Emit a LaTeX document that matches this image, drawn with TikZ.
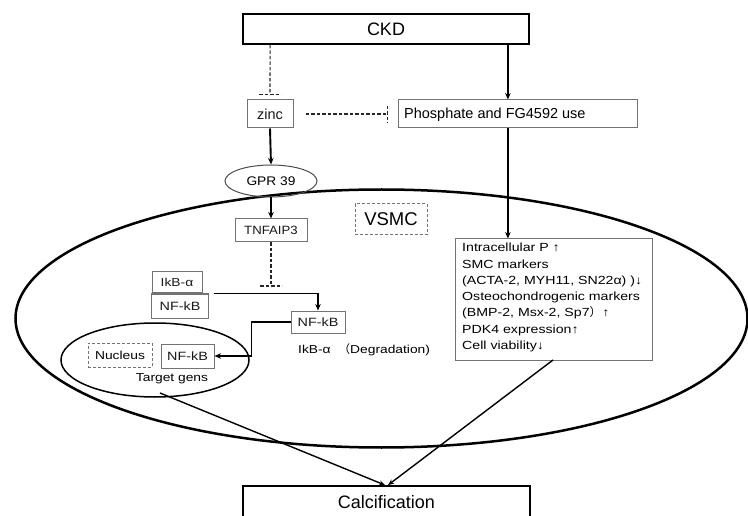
\documentclass[tikz,border=0pt]{standalone}
\usepackage{fontspec}
\setmainfont{Liberation Sans}
\newfontfamily\midf[FakeStretch=1.1]{Liberation Sans}
\newfontfamily\wf[FakeStretch=1.2]{Liberation Sans}
\newfontfamily\cjk{Noto Sans CJK SC}
\usetikzlibrary{arrows.meta,shapes.geometric,calc}
\begin{document}
\begin{tikzpicture}[x=1pt,y=-1pt,
  bigbox/.style={draw=black,line width=1.8pt,minimum height=30pt,inner sep=0pt,font=\fontsize{18}{20}\selectfont},
  smallbox/.style={draw=black!55,line width=1pt,inner sep=0pt,text=black!90},
  dbox/.style={draw=black!55,line width=1pt,dash pattern=on 3pt off 2pt,inner sep=0pt},
  arr/.style={line width=1.9pt,-{Stealth[length=6.5pt,width=5.5pt]}},
  thinarr/.style={line width=1.4pt,-{Stealth[length=6pt,width=5pt]}},
  inh/.style={line width=1.1pt,draw=black!85,dash pattern=on 3.5pt off 2pt},
]
\useasboundingbox (0,0) rectangle (748,516);
\clip (0,0) rectangle (748,516);
\fill[white] (0,0) rectangle (748,516);

% big VSMC cell
\draw[line width=2.5pt] (381.5,318.5) ellipse [x radius=366, y radius=129];

% top level
\node[bigbox,minimum width=286pt] (ckd) at (386,29) {CKD};
\node[bigbox,minimum width=287pt,minimum height=32pt] (calc) at (386.5,502) {Calcification};

\node[smallbox,minimum width=46pt,minimum height=28pt,font=\fontsize{14.5}{16}\selectfont] (zinc) at (270,114) {zinc};
\node[smallbox,minimum width=239pt,minimum height=28pt] (phos) at (517.5,114) {};
\node[anchor=west,inner sep=0pt,font=\fontsize{14.5}{16}\selectfont] (phost) at (404,114.5) {Phosphate and FG4592 use};

\node[ellipse,draw=black!70,line width=1pt,minimum width=92pt,minimum height=32pt,inner sep=0pt,font=\midf\fontsize{12.5}{14}\selectfont] (gpr) at (271,181) {GPR 39};
\node[smallbox,minimum width=72pt,minimum height=23pt,font=\midf\fontsize{12}{14}\selectfont] (tnf) at (271,230.5) {TNFAIP3};
\node[dbox,minimum width=72pt,minimum height=31pt,font=\fontsize{18.5}{20}\selectfont] (vsmc) at (391,219.5) {VSMC};

\node[smallbox,minimum width=50pt,minimum height=21pt,font=\wf\fontsize{11.5}{13}\selectfont] (ikb) at (177,282.5) {IkB-α};
\node[smallbox,minimum width=57pt,minimum height=24pt,font=\wf\fontsize{12}{14}\selectfont] (nf1) at (180,306) {NF-kB};
\node[smallbox,minimum width=54pt,minimum height=22pt,font=\wf\fontsize{12}{14}\selectfont] (nf2) at (318,322) {NF-kB};

% nucleus
\node[ellipse,draw=black,line width=1.5pt,minimum width=188pt,minimum height=74pt,inner sep=0pt] (nuc) at (155,360) {};
\node[dbox,minimum width=64pt,minimum height=24pt,font=\wf\fontsize{11.5}{14}\selectfont] (nucl) at (120,355) {Nucleus};
\node[smallbox,minimum width=53pt,minimum height=24pt,font=\wf\fontsize{12}{14}\selectfont] (nf3) at (187.5,356) {NF-kB};
\node[inner sep=0pt,font=\wf\fontsize{11.5}{13}\selectfont] (tg) at (172,378.5) {Target gens};

\node[anchor=west,inner sep=0pt,font=\wf\fontsize{11.5}{13}\selectfont] (deg) at (298,350) {IkB-α\hspace{8pt}{\cjk （}Degradation)};

% right box
\node[smallbox,minimum width=197pt,minimum height=121pt] (rbox) at (553.5,299.5) {};
\node[anchor=north west,inner sep=0pt,align=left,font=\wf\fontsize{11.8}{16.3}\selectfont] (rtext) at (462,243) {Intracellular P ↑\\SMC markers\\(ACTA-2, MYH11, SN22α) )↓\\Osteochondrogenic markers\\(BMP-2, Msx-2, Sp7{\cjk ）}\hspace{1pt}↑\\PDK4 expression↑\\Cell viability↓};

% coordinates
\coordinate (ckdA) at ($(ckd.south west)+(28,0)$);
\coordinate (barA) at ($(zinc.north)+(0,-5)$);
\coordinate (ckdB) at ($(ckd.south east)+(-22,0)$);
\coordinate (zincR) at ($(zinc.east)+(12,0)$);
\coordinate (barB) at ($(phos.west)+(-10,0)$);
\coordinate (barC) at ($(tnf.south)+(0,43.5)$);
\coordinate (nfS) at ($(nf1.north east)+(5,0)$);
\coordinate (rbS) at (553,360);
\coordinate (nucS) at (160,393);

% connectors
\draw[inh] (ckdA) -- (barA);
\draw[inh] ($(barA)+(-11,0)$) -- ($(barA)+(11,0)$);
\draw[arr] (ckdB) -- (ckdB |- phos.north);
\draw[inh] (zincR) -- (barB);
\draw[inh] ($(barB)+(0,-8)$) -- ($(barB)+(0,9)$);
\draw[arr] (zinc.south) -- (gpr.north);
\draw[arr] (gpr.south) -- (tnf.north);
\draw[inh] (tnf.south) -- (barC);
\draw[inh] ($(barC)+(-11,0)$) -- ($(barC)+(11,0)$);
\draw[arr] (nfS) -| (nf2.north);
\draw[arr] (nf2.west) -- ++(-39,0) |- (nf3.east);
\draw[arr] (phos.south -| ckdB) -- (rbox.north -| ckdB);
\draw[thinarr] (nucS) -- ($(calc.north)+(-1.5,0)$);
\draw[thinarr] (rbS) -- ($(calc.north)+(1.5,0)$);
\end{tikzpicture}
\end{document}
